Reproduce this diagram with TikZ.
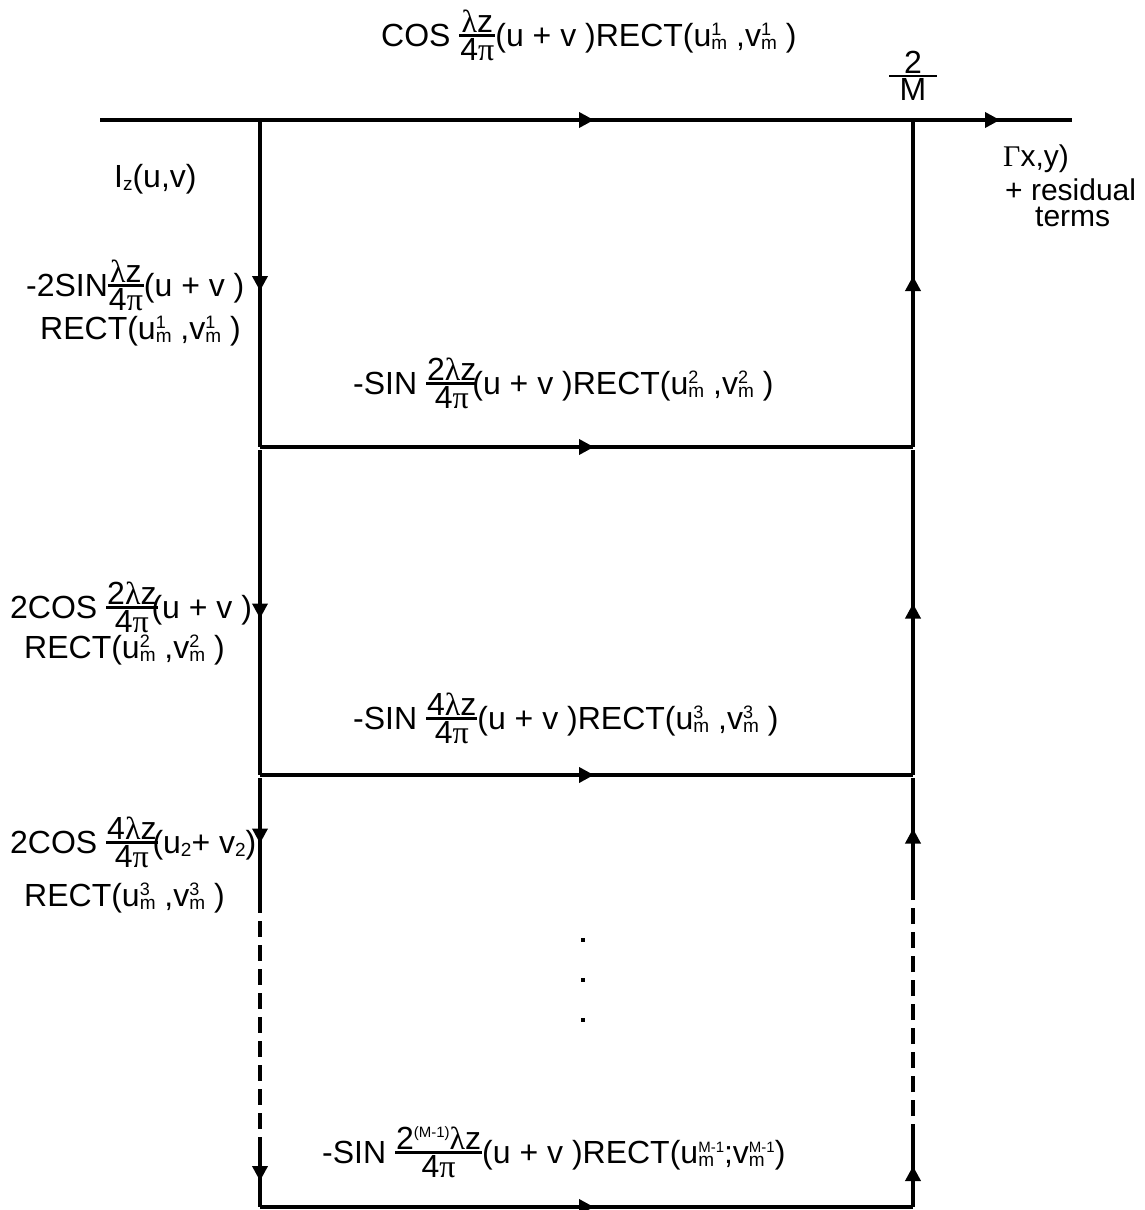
\documentclass[tikz,border=0pt]{standalone}
\usepackage{fontspec}
\setmainfont{Liberation Sans}
\newfontfamily\gkfont{Liberation Serif}
\usetikzlibrary{arrows.meta,decorations.markings}

% script sizes and Greek letters
\newcommand\supsz{\fontsize{18}{18}\selectfont}
\newcommand\tinysz{\fontsize{15}{15}\selectfont}
\newcommand\subsz{\fontsize{19}{19}\selectfont}
\newcommand\lam{{\gkfont λ}}
\newcommand\piz{{\gkfont π}}
% stacked subscript (#2) and superscript (#3) in size #1
\newcommand\stkgen[3]{\setbox0\hbox{\subsz #2}\setbox2\hbox{#1#3}%
  \dimen0=\ifdim\wd0>\wd2 \wd0\else\wd2\fi
  \hbox to\dimen0{\rlap{\lower3pt\box0}\raise11pt\box2\hfil}}
\newcommand\stk[2]{\stkgen{\supsz}{#1}{#2}}
\newcommand\stks[2]{\stkgen{\tinysz}{#1}{#2}}
\newcommand\lowsub[1]{\lower3pt\hbox{\subsz #1}}
\newcommand\upsup[1]{\raise12pt\hbox{\tinysz #1}}
% built-up fraction with a heavy rule
\newcommand\frc[2]{\raise4.5pt\hbox{%
  $\vcenter{\offinterlineskip\halign{\kern1pt\hfil##\hfil\kern1pt\cr
  #1\cr\noalign{\kern1.5pt\hrule height 2.4pt\kern1.5pt}#2\cr}}$}}

\tikzset{
  wire/.style={line width=3.6pt},
  flow/.style={wire, postaction={decorate}, decoration={markings,
      mark=at position 0.5 with {\arrow[xshift=7.5pt]{Triangle[length=15pt,width=15pt]}}}},
  gap/.style={wire, dash pattern=on 16pt off 8pt},
  lbl/.style={inner sep=0pt, anchor=base west, font=\fontsize{32}{38}\selectfont},
  rlbl/.style={inner sep=0pt, anchor=base west, font=\fontsize{30}{36}\selectfont},
}

\begin{document}
\begin{tikzpicture}[x=1pt,y=-1pt]
\clip (0,0) rectangle (1144,1210);
\fill[white] (0,0) rectangle (1144,1210);

% junctions of the flow graph
\coordinate (in)  at (100,120);
\coordinate (tl)  at (260,120);
\coordinate (tr)  at (913,120);
\coordinate (out) at (1072,120);
\coordinate (l1)  at (260,447);
\coordinate (r1)  at (913,447);
\coordinate (l2)  at (260,775);
\coordinate (r2)  at (913,775);
\coordinate (ld1) at (260,897);
\coordinate (rd1) at (913,897);
\coordinate (ld2) at (260,1140);
\coordinate (rd2) at (913,1140);
\coordinate (bl)  at (260,1207);
\coordinate (br)  at (913,1207);

% top branch
\draw[wire] (in) -- (tl);
\draw[flow] (tl) -- (tr);
\draw[flow] (tr) -- (out);

% horizontal branches
\draw[flow] (l1) -- (r1);
\draw[flow] (l2) -- (r2);
\draw[flow] (bl) -- (br);

% left column, running down
\draw[flow] (tl) -- (l1);
\draw[flow, shorten <=3pt] (l1) -- (l2);
\draw[flow, shorten <=3pt] (l2) -- (ld1);
\draw[gap] (ld1) -- (ld2);
\draw[flow] (ld2) -- (bl);

% right column, running up
\draw[flow] (br) -- (rd2);
\draw[gap] (rd2) -- (rd1);
\draw[flow, shorten >=3pt] (rd1) -- (r2);
\draw[flow, shorten >=3pt] (r2) -- (r1);
\draw[flow] (r1) -- (tr);

% continuation dots
\foreach \y in {940, 980, 1020}
  \fill (583-2,\y-2) rectangle (583+2,\y+2);

% labels
\node[lbl] (cos1) at (381,46) {COS \frc{\lam z}{4\piz}(u + v )RECT(u\stk{m}{1} ,v\stk{m}{1} )};
\node[inner sep=0pt, font=\fontsize{32}{38}\selectfont] (gain) at (913,76) {\frc{\kern14pt 2\kern14pt}{M}};
\node[rlbl] (res1) at (1003,166) {{\gkfont Γ}x,y)};
\node[rlbl] (res2) at (1005,200) {+ residual};
\node[rlbl] (res3) at (1035,226) {terms};
\node[lbl] (iz) at (114,187) {I\lowsub{z}(u,v)};

\node[lbl] (s1) at (26,296) {-2SIN\frc{\lam z}{4\piz}(u + v )};
\node[lbl] (r1t) at (40,339) {RECT(u\stk{m}{1} ,v\stk{m}{1} )};
\node[lbl] (sin2) at (353,394) {-SIN \frc{2\lam z}{4\piz}\kern-5pt(u + v )RECT(u\stk{m}{2} ,v\stk{m}{2} )};

\node[lbl] (c2) at (10,618) {2COS \frc{2\lam z}{4\piz}\kern-6pt(u + v )};
\node[lbl] (r2t) at (24,658) {RECT(u\stk{m}{2} ,v\stk{m}{2} )};
\node[lbl] (sin3) at (353,729) {-SIN \frc{4\lam z}{4\piz}(u + v )RECT(u\stk{m}{3} ,v\stk{m}{3} )};

\node[lbl] (c3) at (10,853) {2COS \frc{4\lam z}{4\piz}\kern-5pt(u\lowsub{2}+ v\lowsub{2})};
\node[lbl] (r3t) at (24,906) {RECT(u\stk{m}{3} ,v\stk{m}{3} )};

\node[lbl] (sinm) at (322,1163) {-SIN \frc{2\upsup{(M-1)}\lam z}{4\piz}(u + v )RECT(u\stks{m}{M-1};v\stks{m}{M-1})};
\end{tikzpicture}
\end{document}
